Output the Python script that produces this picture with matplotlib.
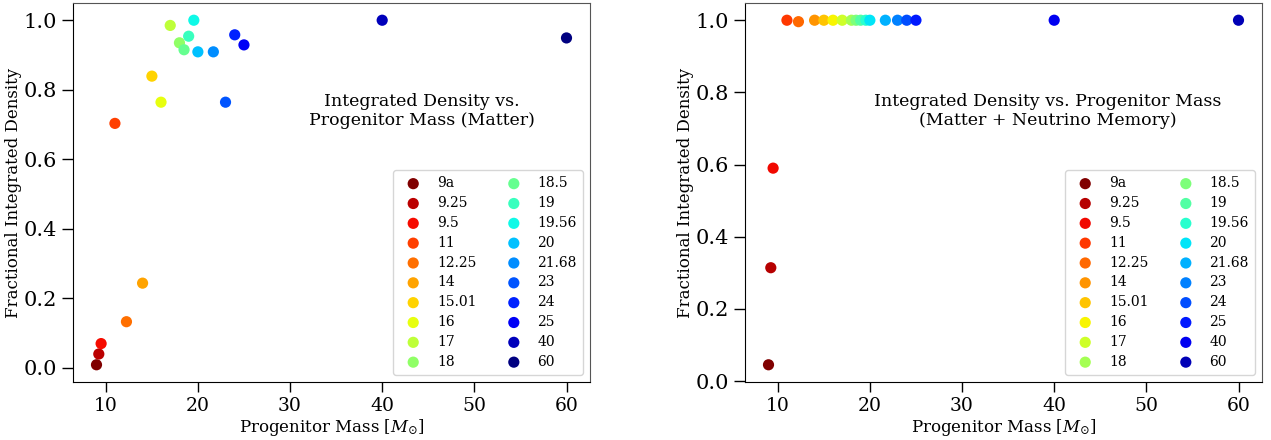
import numpy as np
import matplotlib
matplotlib.use("Agg")
import matplotlib.pyplot as plt

labels = ["9a", "9.25", "9.5", "11", "12.25", "14", "15.01", "16", "17", "18",
          "18.5", "19", "19.56", "20", "21.68", "23", "24", "25", "40", "60"]
masses = [9, 9.25, 9.5, 11, 12.25, 14, 15.01, 16, 17, 18,
          18.5, 19, 19.56, 20, 21.68, 23, 24, 25, 40, 60]
matter = [0.008, 0.039, 0.069, 0.703, 0.132, 0.243, 0.839, 0.764, 0.985, 0.935,
          0.915, 0.954, 1.0, 0.909, 0.909, 0.764, 0.958, 0.929, 1.0, 0.949]
memory = [0.045, 0.314, 0.590, 1.0, 0.996, 1.0, 1.0, 1.0, 1.0, 1.0,
          1.0, 1.0, 1.0, 1.0, 1.0, 1.0, 1.0, 1.0, 1.0, 1.0]

plt.rcParams['font.family'] = ['DejaVu Serif']
plt.rcParams['mathtext.fontset'] = 'dejavuserif'

fig = plt.figure(figsize=(12.71, 4.40), dpi=100)
ax1 = fig.add_axes([73/1271, 1 - 382/440, 517/1271, 379/440])
ax2 = fig.add_axes([745/1271, 1 - 382/440, 517/1271, 379/440])

cmap = plt.get_cmap('jet')
n = len(masses)
cols1 = [cmap(1 - i / (n - 1)) for i in range(n)]
cols2 = [cmap(1 - i / n) for i in range(n)]

def draw(ax, ys, cols, text, tx):
    for m, y, c, lab in zip(masses, ys, cols, labels):
        ax.scatter(m, y, s=65, color=c, label=lab, edgecolors='none')
    ax.set_xlabel(r'Progenitor Mass [$M_{\odot}$]', fontsize=12, labelpad=2)
    ax.set_ylabel('Fractional Integrated Density', fontsize=12, labelpad=1)
    ax.tick_params(axis='y', labelsize=15, length=8, width=1, direction='out')
    ax.tick_params(axis='x', labelsize=13.5, length=7, width=1, direction='out')
    ax.set_xticks([10, 20, 30, 40, 50, 60])
    ax.set_yticks([0.0, 0.2, 0.4, 0.6, 0.8, 1.0])
    ax.spines['left'].set_color('black')
    ax.spines['bottom'].set_color('black')
    ax.spines['top'].set_color('#555555')
    ax.spines['right'].set_color('#555555')
    ax.text(tx, 0.715, text, transform=ax.transAxes, ha='center', va='center',
            multialignment='center', fontsize=12.5)
    ax.legend(loc='lower right', ncol=2, fontsize=10, handletextpad=0.7,
              columnspacing=1.7, labelspacing=0.42, borderpad=0.45,
              borderaxespad=0.5)

draw(ax1, matter, cols1, "Integrated Density vs.\nProgenitor Mass (Matter)", 0.675)
draw(ax2, memory, cols2, "Integrated Density vs. Progenitor Mass\n(Matter + Neutrino Memory)", 0.585)

fig.savefig("out.png", dpi=100)
